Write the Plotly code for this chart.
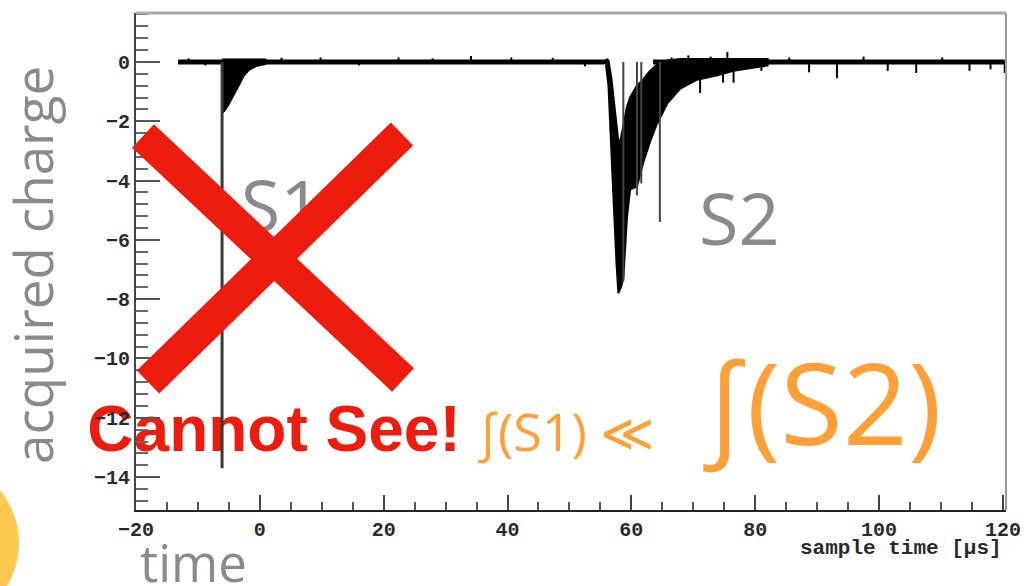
import plotly.graph_objects as go

# ---------------- figure geometry (pixels) ----------------
W, H = 1031, 586
L, R, T, B = 136, 1006, 13, 510
X_RANGE = [-20, 120.5]
Y_RANGE = [-15.11, 1.65]

# ---------------- data ----------------
# baseline segments (µs, charge)
base_t = [-13.2, 56.0, None, 63.5, 120.3]
base_v = [0.0, 0.0, None, 0.0, 0.0]

# S1 tail envelope
s1_t = [-6.1, -5.6, -5.0, -4.3, -3.7, -3.2, -2.6, -1.7, -0.5, 1.0]
s1_lo = [-1.75, -1.65, -1.45, -1.18, -0.95, -0.75, -0.5, -0.28, -0.15, -0.08]
s1_hi = [0.1, 0.1, 0.1, 0.1, 0.1, 0.1, 0.1, 0.1, 0.1, 0.1]

# S1 prompt spike
s1_spike_t = [-6.1]
s1_spike_v = [-13.7]

# S2 pulse envelope
s2_t = [55.9, 56.3, 56.8, 57.2, 57.6, 57.9, 58.3, 58.7, 59.3, 59.8, 60.9,
        61.9, 63.0, 64.1, 65.8, 67.9, 70.6, 73.9, 76.5, 79.2, 82.0]
s2_lo = [-0.1, -0.8, -3.0, -5.0, -6.8, -7.8, -7.6, -7.3, -5.2, -4.3, -4.2,
         -3.4, -2.7, -2.1, -1.4, -0.9, -0.6, -0.45, -0.3, -0.2, -0.12]
s2_hi = [0.1, 0.05, -0.6, -1.3, -2.1, -2.7, -2.6, -2.1, -1.5, -1.2, -0.8,
         -0.6, -0.3, -0.1, 0.05, 0.1, 0.1, 0.1, 0.1, 0.1, 0.1]

# thin spikes inside S2
s2_spike_t = [58.7, 60.9, 61.6, 64.6]
s2_spike_v = [-7.4, -4.5, -4.1, -5.4]

# small baseline noise hairs
noise_t = [-11.5, -8.8, 3.5, 9.8, 16.0, 22.4, 27.9, 34.1, 40.6, 47.3, 52.5,
           66.5, 69.2, 71.1, 72.8, 74.8, 75.5, 76.5, 81.0, 85.5, 88.7, 93.2,
           97.5, 101.4, 106.0, 110.2, 114.6, 118.0, 120.3]
noise_v = [0.12, -0.12, 0.14, 0.15, -0.12, 0.15, 0.12, 0.2, 0.15, 0.14, -0.15,
           0.15, 0.22, -1.05, 0.18, -0.7, 0.34, -0.7, -0.3, 0.15, -0.35, -0.55,
           0.18, -0.3, -0.37, 0.15, -0.3, -0.25, -0.37]

# axis ticks
x_ticks = [-20, 0, 20, 40, 60, 80, 100, 120]
y_ticks = [0, -2, -4, -6, -8, -10, -12, -14]

# ---------------- helpers ----------------
def px2x(px):
    return X_RANGE[0] + (px - L) / (R - L) * (X_RANGE[1] - X_RANGE[0])

def py2y(py):
    return Y_RANGE[1] - (py - T) / (B - T) * (Y_RANGE[1] - Y_RANGE[0])

def vlines(ts, vs):
    xs, ys = [], []
    for t, v in zip(ts, vs):
        xs += [t, t, None]
        ys += [0, v, None]
    return xs, ys

def fmt(v):
    return ("\u2212" + str(-v)) if v < 0 else str(v)

GRAY = "#888b8d"
RED = "#ec1d0f"
ORANGE = "#ff9f38"
TICKCOL = "#2a2a2a"
MONO = dict(family="Liberation Mono", size=20, color=TICKCOL, weight="bold")

fig = go.Figure()

# text that sits underneath the chart drawing
fig.add_trace(go.Scatter(
    x=[px2x(274)], y=[py2y(435)], mode="text", text=["Cannot See!"],
    textposition="middle center", cliponaxis=False, hoverinfo="skip",
    textfont=dict(family="Liberation Sans", size=64, color=RED, weight="bold")))
fig.add_trace(go.Scatter(
    x=[px2x(281)], y=[py2y(214)], mode="text", text=["S1"],
    textposition="middle center", cliponaxis=False, hoverinfo="skip",
    textfont=dict(family="Open Sans", size=72, color=GRAY)))

# waveform
fig.add_trace(go.Scatter(x=base_t, y=base_v, mode="lines",
                         line=dict(color="black", width=5), hoverinfo="skip"))
fig.add_trace(go.Scatter(x=s1_t + s1_t[::-1], y=s1_hi + s1_lo[::-1],
                         mode="lines", fill="toself", fillcolor="black",
                         line=dict(color="black", width=1), hoverinfo="skip"))
fig.add_trace(go.Scatter(x=s2_t + s2_t[::-1], y=s2_hi + s2_lo[::-1],
                         mode="lines", fill="toself", fillcolor="black",
                         line=dict(color="black", width=2), hoverinfo="skip"))
nx, ny = vlines(noise_t, noise_v)
fig.add_trace(go.Scatter(x=nx, y=ny, mode="lines",
                         line=dict(color="black", width=2), hoverinfo="skip"))
sx, sy = vlines(s2_spike_t, s2_spike_v)
fig.add_trace(go.Scatter(x=sx, y=sy, mode="lines",
                         line=dict(color="#444444", width=2), hoverinfo="skip"))
kx, ky = vlines(s1_spike_t, s1_spike_v)
fig.add_trace(go.Scatter(x=kx, y=ky, mode="lines",
                         line=dict(color="#3a3a3a", width=3), hoverinfo="skip"))

# ---------------- axes ----------------
fig.update_xaxes(
    domain=[L / W, R / W], range=X_RANGE, showgrid=False, zeroline=False,
    automargin=False,
    showline=True, linecolor="#222222", linewidth=2,
    ticks="inside", ticklen=15, tickwidth=2, tickcolor="#444444",
    tickvals=x_ticks, ticktext=[fmt(v) for v in x_ticks],
    tickfont=MONO,
    minor=dict(dtick=5, tick0=0, ticks="inside", ticklen=8, tickwidth=2, tickcolor="#555555"),
)
fig.update_yaxes(
    domain=[1 - B / H, 1 - T / H], range=Y_RANGE, showgrid=False, zeroline=False,
    automargin=False,
    showline=True, linecolor="#444444", linewidth=2,
    ticks="inside", ticklen=24, tickwidth=2, tickcolor="#555555",
    tickvals=y_ticks, ticktext=[fmt(v) for v in y_ticks],
    tickfont=MONO,
    minor=dict(dtick=0.4, tick0=0, ticks="inside", ticklen=12, tickwidth=2, tickcolor="#666666"),
)

def P(px, py):
    return px / W, 1 - py / H

shapes = []
# top / right frame
x0, y0 = P(L, T); x1, y1 = P(R, T)
shapes.append(dict(type="line", xref="paper", yref="paper", x0=x0, y0=y0, x1=x1, y1=y1,
                   line=dict(color="#aaaaaa", width=3), layer="above"))
x0, y0 = P(R, T); x1, y1 = P(R, B)
shapes.append(dict(type="line", xref="paper", yref="paper", x0=x0, y0=y0, x1=x1, y1=y1,
                   line=dict(color="#9a9a9a", width=2), layer="above"))
# red X
for (a, b), (c, d) in [((143, 136), (403, 380)), ((402, 134), (148, 382))]:
    x0, y0 = P(a, b); x1, y1 = P(c, d)
    shapes.append(dict(type="line", xref="paper", yref="paper", x0=x0, y0=y0, x1=x1, y1=y1,
                       line=dict(color=RED, width=32), layer="above"))
# yellow circle at bottom-left
x0, y0 = P(-147, 626); x1, y1 = P(19, 460)
shapes.append(dict(type="circle", xref="paper", yref="paper", x0=x0, y0=y0, x1=x1, y1=y1,
                   fillcolor="#ffc94f", line=dict(width=0), layer="above"))

def ann(text, px, py, size, color, family="Open Sans", xanchor="center",
        yanchor="middle", angle=0, weight="normal"):
    x, y = P(px, py)
    return dict(text=text, x=x, y=y, xref="paper", yref="paper", showarrow=False,
                xanchor=xanchor, yanchor=yanchor, textangle=angle,
                font=dict(family=family, size=size, color=color, weight=weight))

annotations = [
    ann("acquired charge", 32, 265, 53, GRAY, angle=-90),
    ann("time", 138, 562, 51, GRAY, xanchor="left"),
    ann("S2", 739, 217, 72, GRAY),
    ann("\u222b(S1) \u226a", 566, 430, 52, ORANGE),
    ann("\u222b(S2)", 822, 400, 114, ORANGE),
    ann("sample time [\u00b5s]", 1004, 548, 21, TICKCOL, family="Liberation Mono",
        xanchor="right", weight="bold"),
]

fig.update_layout(
    width=W, height=H, autosize=False,
    margin=dict(l=0, r=0, t=0, b=0, pad=0, autoexpand=False),
    paper_bgcolor="white", plot_bgcolor="white",
    showlegend=False, shapes=shapes, annotations=annotations,
)

fig.write_html("out.html")
